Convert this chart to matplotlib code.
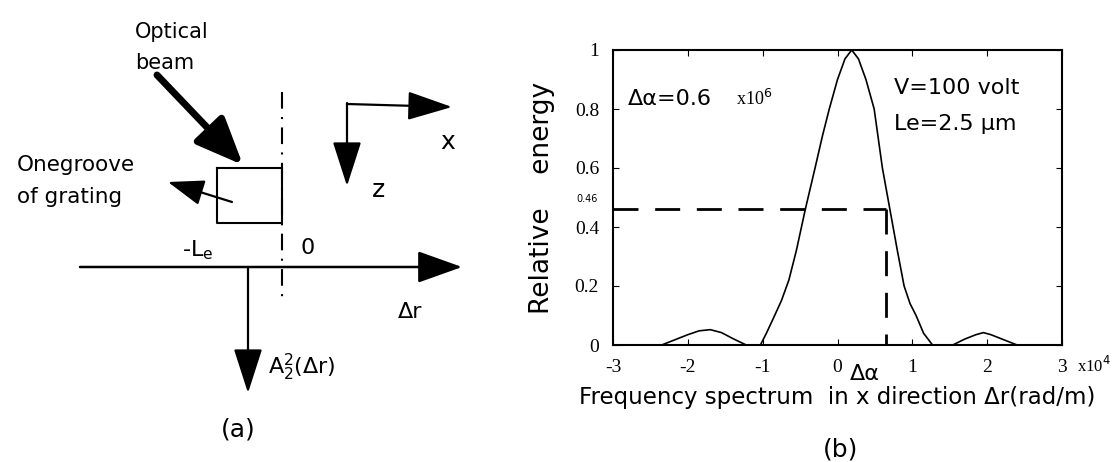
import numpy as np
import matplotlib
matplotlib.use("Agg")
import matplotlib.pyplot as plt

plt.rcParams['font.family'] = ['DejaVu Sans']
plt.rcParams['axes.unicode_minus'] = False

# (b) spectrum curve: three pieces
left_lobe_x = [-3.0, -2.6, -2.35, -2.2, -2.0, -1.85, -1.7, -1.55, -1.4, -1.22]
left_lobe_y = [0.0, 0.0, 0.0, 0.015, 0.035, 0.048, 0.052, 0.042, 0.022, 0.0]
main_lobe_x = [-1.03, -0.95, -0.84, -0.75, -0.65, -0.55, -0.43, -0.30, -0.20,
               -0.11, 0.0, 0.10, 0.19, 0.28, 0.38, 0.49, 0.60, 0.70, 0.80,
               0.89, 0.97, 1.05, 1.15, 1.27]
main_lobe_y = [0.0, 0.04, 0.10, 0.15, 0.22, 0.32, 0.46, 0.60, 0.71, 0.80,
               0.90, 0.97, 1.0, 0.97, 0.90, 0.80, 0.60, 0.46, 0.32, 0.20,
               0.14, 0.10, 0.04, 0.0]
right_lobe_x = [1.54, 1.7, 1.85, 1.95, 2.05, 2.2, 2.4, 2.7, 3.0]
right_lobe_y = [0.0, 0.02, 0.035, 0.042, 0.035, 0.02, 0.0, 0.0, 0.0]

half_level = 0.46
delta_alpha = 0.65
x_ticks = [-3, -2, -1, 0, 1, 2, 3]
y_ticks = [0, 0.2, 0.4, 0.6, 0.8, 1]
y_tick_labels = ['0', '0.2', '0.4', '0.6', '0.8', '1']

# (a) sketch, in pixel coords of the left panel
box = [217, 282, 168, 223]          # left, right, top, bottom
beam = [(157, 75), (243, 165)]
groove_arrow = [(232, 202), (168, 182)]
dr_axis = [(80, 267), (462, 267)]
a2_arrow = [(248, 267), (248, 393)]
frame_corner = (347, 104)
frame_x_end = (452, 107)
frame_z_end = (347, 186)
dash_x = 282

fig = plt.figure(figsize=(11.12, 4.62), dpi=100)

# ---- panel (a)
axa = fig.add_axes([0, 0, 480 / 1112, 1])
axa.set_xlim(0, 480)
axa.set_ylim(462, 0)
axa.axis('off')

def arrow(ax, tail, tip, lw, hl, hw, ms):
    ax.annotate('', xy=tip, xytext=tail,
                arrowprops=dict(arrowstyle=f'-|>,head_length={hl},head_width={hw}',
                                lw=lw, color='black', mutation_scale=ms,
                                shrinkA=0, shrinkB=0))

arrow(axa, beam[0], beam[1], 5, 1.3, 0.55, 22)
arrow(axa, groove_arrow[0], groove_arrow[1], 1.6, 1.4, 0.5, 16)
arrow(axa, dr_axis[0], dr_axis[1], 1.8, 1.4, 0.5, 20)
arrow(axa, a2_arrow[0], a2_arrow[1], 1.6, 1.4, 0.45, 20)
arrow(axa, frame_corner, frame_x_end, 1.6, 1.4, 0.45, 20)
arrow(axa, (frame_corner[0], frame_corner[1] - 1), frame_z_end, 1.6, 1.4, 0.45, 20)
axa.plot([box[0], box[1], box[1], box[0], box[0]],
         [box[2], box[2], box[3], box[3], box[2]], color='black', lw=1.5)
axa.plot([dash_x, dash_x], [92, 303], color='black', lw=1.5,
         dashes=(8, 4, 1, 4))

axa.text(135, 32, 'Optical', fontsize=15, va='center')
axa.text(135, 63, 'beam', fontsize=15, va='center')
axa.text(17, 165, 'Onegroove', fontsize=15.5, va='center')
axa.text(17, 197, 'of grating', fontsize=15.5, va='center')
axa.text(182, 250, '-L$_\\mathrm{e}$', fontsize=16, va='center')
axa.text(300, 248, '0', fontsize=16, va='center')
axa.text(398, 312, '\u0394r', fontsize=16, va='center')
axa.text(268, 367, 'A$_2^2$(\u0394r)', fontsize=16, va='center')
axa.text(440, 142, 'x', fontsize=18, va='center')
axa.text(372, 190, 'z', fontsize=18, va='center')
axa.text(238, 430, '(a)', fontsize=18, va='center', ha='center')

# ---- panel (b)
ax = fig.add_axes([613 / 1112, 1 - 345 / 462, 449 / 1112, 295 / 462])
for xs, ys in [(left_lobe_x, left_lobe_y), (main_lobe_x, main_lobe_y),
               (right_lobe_x, right_lobe_y)]:
    ax.plot(xs, ys, color='black', lw=1.2)
ax.plot([-3, delta_alpha], [half_level, half_level], color='black', lw=2,
        dashes=(9, 6))
ax.plot([delta_alpha, delta_alpha], [half_level, 0], color='black', lw=2,
        dashes=(9, 6))
ax.set_xlim(-3, 3)
ax.set_ylim(0, 1)
ax.set_xticks(x_ticks)
ax.set_yticks(y_ticks)
ax.set_yticklabels(y_tick_labels)
ax.tick_params(direction='in', length=4, top=True, right=True, pad=10,
               labelsize=14)
for lab in ax.get_xticklabels() + ax.get_yticklabels():
    lab.set_family('Liberation Serif')
for s in ax.spines.values():
    s.set_linewidth(1.5)

ax.set_ylabel('Relative    energy', fontsize=19, labelpad=14)
ax.set_xlabel('Frequency spectrum  in x direction \u0394r(rad/m)', fontsize=16.5,
              labelpad=7)
ax.text(-2.8, 0.835, '\u0394\u03b1=0.6', fontsize=16, va='center')
ax.text(-1.35, 0.835, 'x10$^6$', fontsize=13, va='center', family='Liberation Serif')
ax.text(0.75, 0.87, 'V=100 volt', fontsize=16, va='center')
ax.text(0.75, 0.75, 'Le=2.5 \u03bcm', fontsize=16, va='center')
ax.text(-3.2, 0.495, '0.46', fontsize=7, ha='right', va='center')
ax.text(0.36, -0.1, '\u0394\u03b1', fontsize=16, ha='center', va='center')
ax.text(3.2, -0.07, 'x10$^4$', fontsize=12, va='center', family='Liberation Serif')

fig.text(841 / 1112, 1 - 449 / 462, '(b)', fontsize=18, ha='center', va='center')

fig.savefig('out.png', dpi=100)
